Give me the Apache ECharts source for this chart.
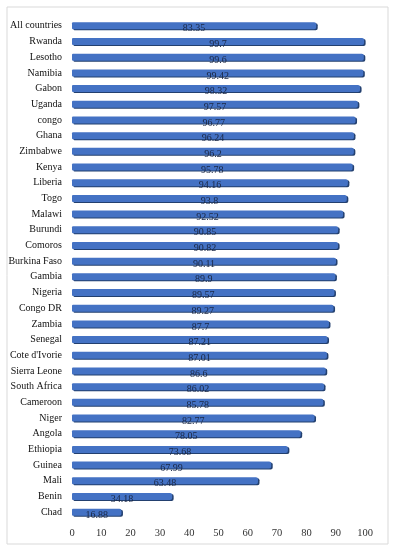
<!DOCTYPE html>
<html><head><meta charset="utf-8">
<script src="https://cdn.jsdelivr.net/npm/echarts@6/dist/echarts.min.js"></script>
<style>html,body{margin:0;padding:0;background:#fff}#c{width:393px;height:550px}</style>
</head><body><div id="c"></div>
<script>
const countries = ["All countries","Rwanda","Lesotho","Namibia","Gabon","Uganda","congo","Ghana","Zimbabwe","Kenya","Liberia","Togo","Malawi","Burundi","Comoros","Burkina Faso","Gambia","Nigeria","Congo DR","Zambia","Senegal","Cote d'Ivorie","Sierra Leone","South Africa","Cameroon","Niger","Angola","Ethiopia","Guinea","Mali","Benin","Chad"];
const values = [83.35,99.7,99.6,99.42,98.32,97.57,96.77,96.24,96.2,95.78,94.16,93.8,92.52,90.85,90.82,90.11,89.9,89.57,89.27,87.7,87.21,87.01,86.6,86.02,85.78,82.77,78.05,73.68,67.99,63.48,34.18,16.88];
const xTicks = [0,10,20,30,40,50,60,70,80,90,100];

const chart = echarts.init(document.getElementById('c'));
const font = "'Liberation Serif','Times New Roman',serif";
chart.setOption({
  animation: false,
  graphic: [{type:'rect', shape:{x:7,y:7,width:381,height:537}, style:{fill:'none', stroke:'#d9d9d9', lineWidth:1}, z:-1}],
  grid: {left:72, right:28, top:18, bottom:30},
  xAxis: {type:'value', min:xTicks[0], max:xTicks[xTicks.length-1], interval:10,
    axisLine:{show:false}, axisTick:{show:false}, splitLine:{show:false},
    axisLabel:{fontFamily:font, fontSize:10.5, color:'#333', margin:8}},
  yAxis: {type:'category', data:countries, inverse:true,
    axisLine:{show:false}, axisTick:{show:false},
    axisLabel:{fontFamily:font, fontSize:10, color:'#111', margin:10}},
  series: [{type:'bar', data:values, barWidth:7,
    itemStyle:{color:'#4472C4', borderRadius:[1,2,2,1],
      shadowColor:'#23406f', shadowOffsetX:1.5, shadowOffsetY:1, shadowBlur:0},
    label:{show:true, position:'inside', fontFamily:font, fontSize:10, color:'#1a2744', offset:[0,3]}}]
});
</script></body></html>
